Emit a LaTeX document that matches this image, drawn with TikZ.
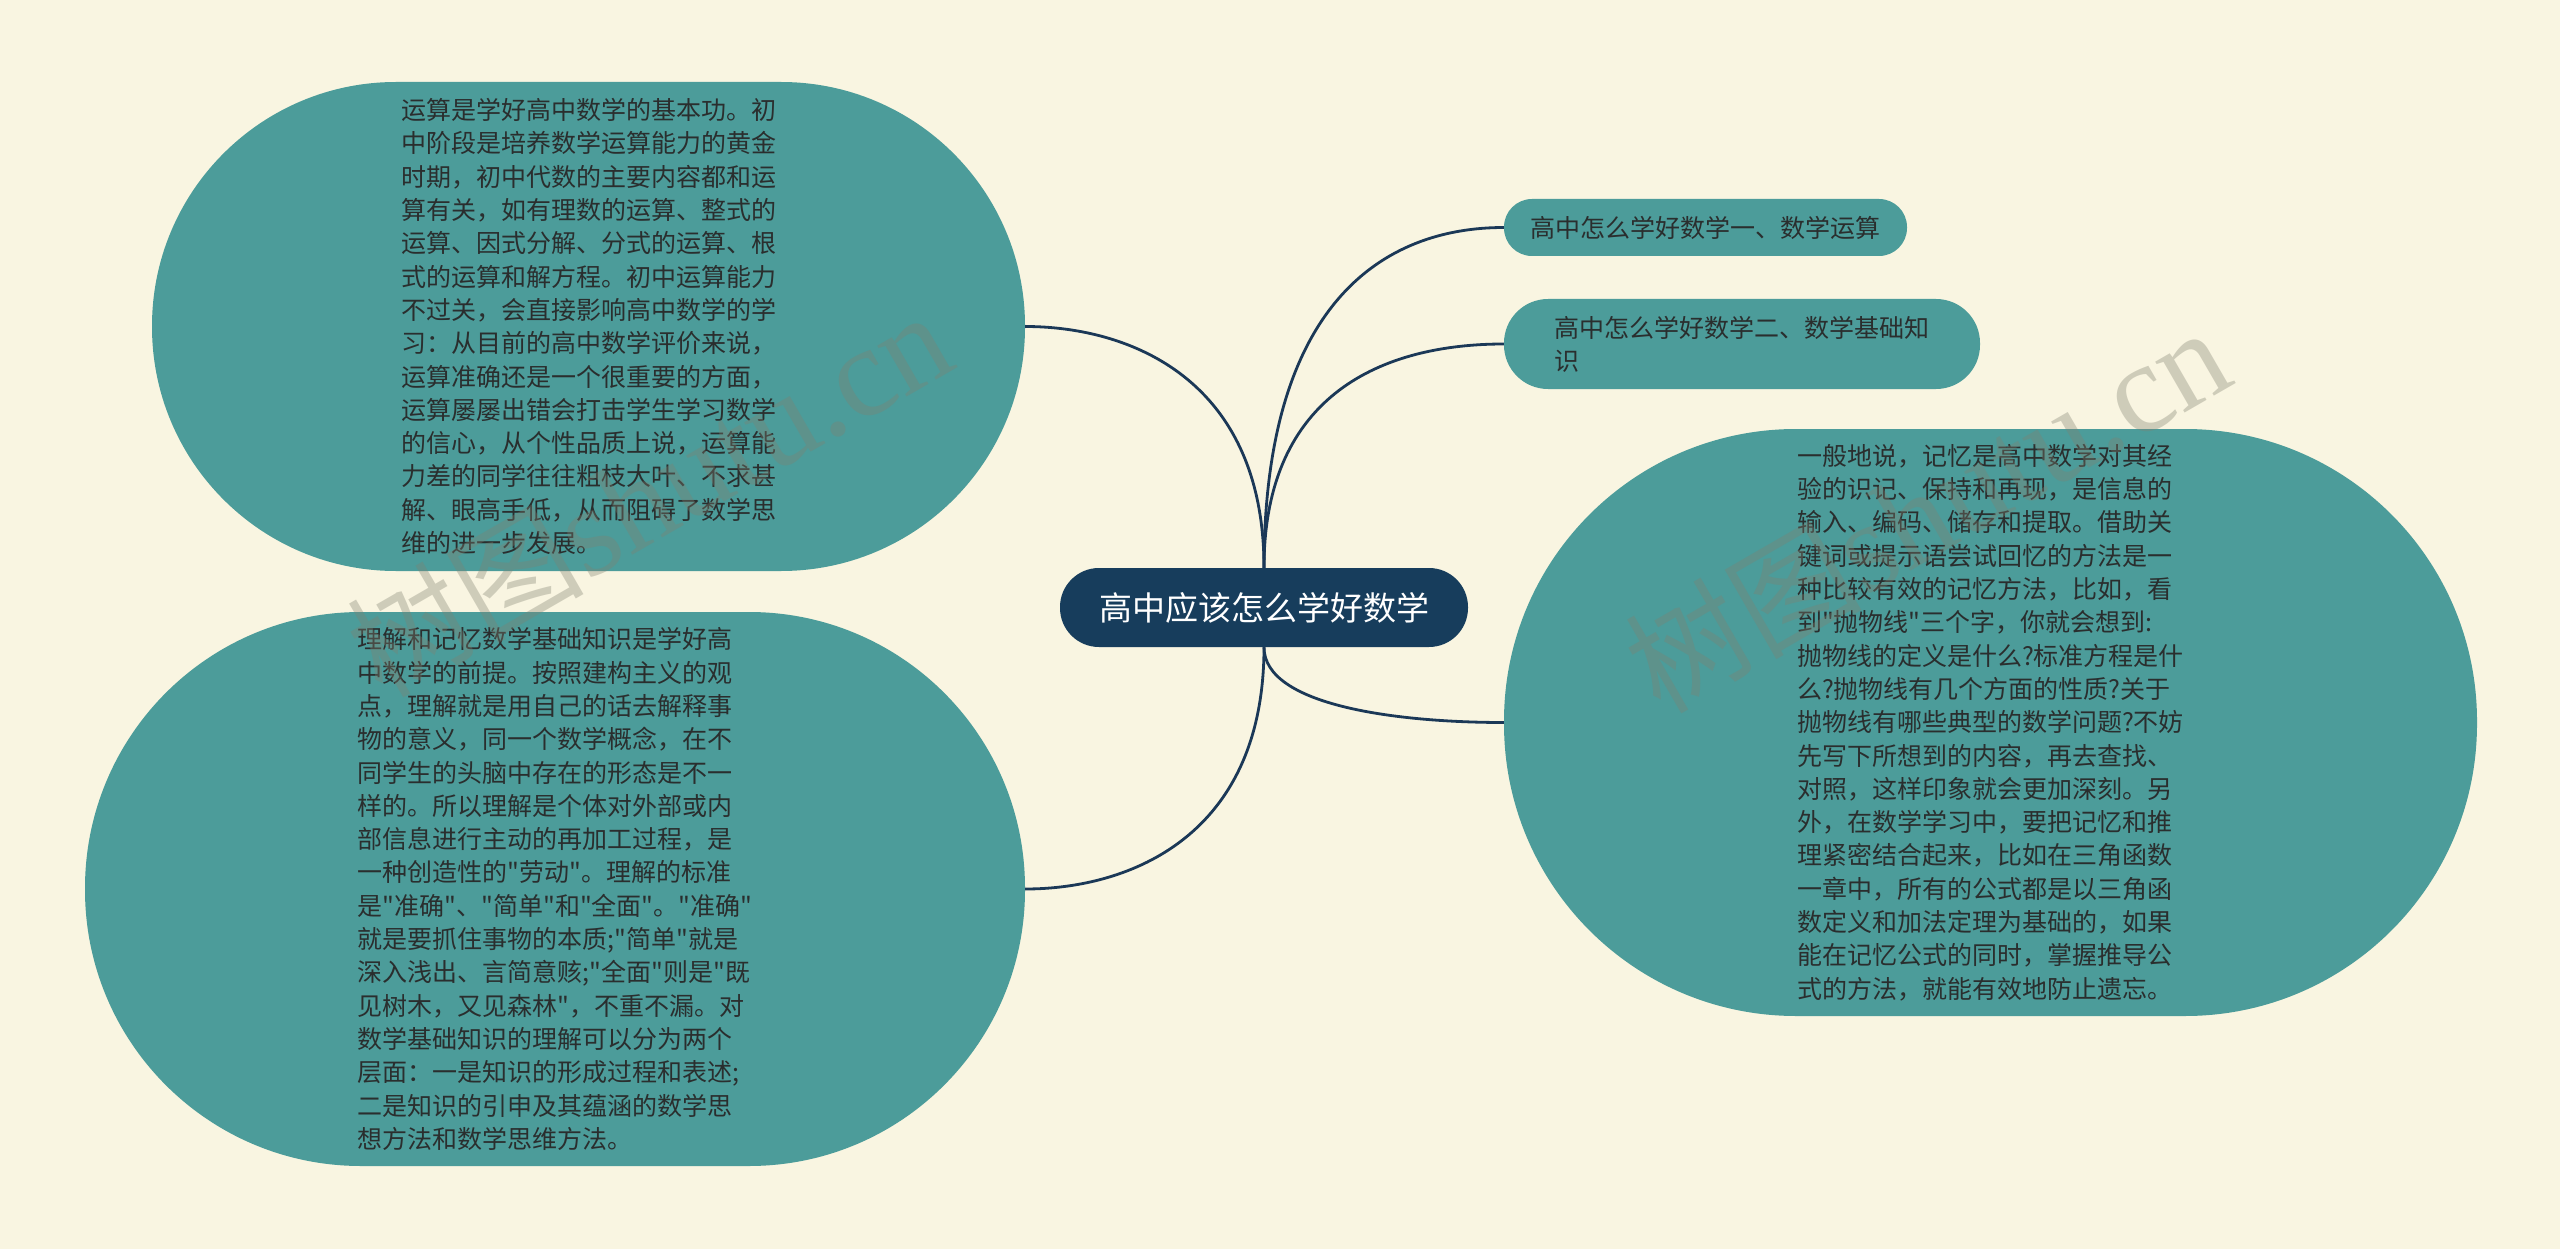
\documentclass[tikz,border=0pt]{standalone}
\usepackage{fontspec}
\setmainfont{Noto Sans CJK SC}
\newfontfamily\cjk{Noto Sans CJK SC}
\newfontfamily\wmserif{Liberation Serif}
\usetikzlibrary{calc}
\definecolor{bgcol}{HTML}{F9F5E1}
\definecolor{blobteal}{HTML}{4C9C9A}
\definecolor{centernavy}{HTML}{173D5C}
\definecolor{linecol}{HTML}{1B3857}
\definecolor{txtcol}{HTML}{2A2E2E}
\definecolor{wmcol}{HTML}{808070}
\begin{document}
\begin{tikzpicture}[x=1pt,y=-1pt,
  blob/.style={fill=blobteal, inner sep=0pt, align=left, text=txtcol,
    font=\cjk\fontsize{25}{33.3}\selectfont},
  topic/.style={fill=blobteal, inner sep=0pt, align=left, text=txtcol,
    font=\cjk\fontsize{25}{33}\selectfont},
  conn/.style={draw=linecol, line width=2.8pt},
  watermark/.style={rotate=30, text=wmcol, opacity=0.35, inner sep=0pt}]
\fill[bgcol] (0,0) rectangle (2560,1249);
\useasboundingbox (0,0) rectangle (2560,1249);

% central topic
\node[fill=centernavy, text=white, inner sep=0pt, minimum width=408pt, minimum height=79pt,
  rounded corners=39pt, font=\cjk\fontsize{33}{36}\selectfont] (c) at (1264,607.5) {高中应该怎么学好数学};

% right topics
\node[topic, minimum width=403pt, minimum height=57pt, rounded corners=28pt] (r1) at (1705.5,227.5)
  {高中怎么学好数学一、数学运算};
\node[topic, minimum width=476pt, minimum height=90pt, rounded corners=44pt] (r2) at (1742,344)
  {高中怎么学好数学二、数学基础知\\识};

% big blobs
\node[blob, minimum width=873pt, minimum height=489pt, rounded corners=244pt] (tl) at (588.5,326.5)
  {运算是学好高中数学的基本功。初\\
   中阶段是培养数学运算能力的黄金\\
   时期，初中代数的主要内容都和运\\
   算有关，如有理数的运算、整式的\\
   运算、因式分解、分式的运算、根\\
   式的运算和解方程。初中运算能力\\
   不过关，会直接影响高中数学的学\\
   习：从目前的高中数学评价来说，\\
   运算准确还是一个很重要的方面，\\
   运算屡屡出错会打击学生学习数学\\
   的信心，从个性品质上说，运算能\\
   力差的同学往往粗枝大叶、不求甚\\
   解、眼高手低，从而阻碍了数学思\\
   维的进一步发展。};

\node[blob, minimum width=940pt, minimum height=554pt, rounded corners=276pt] (bl) at (555,889)
  {理解和记忆数学基础知识是学好高\\
   中数学的前提。按照建构主义的观\\
   点，理解就是用自己的话去解释事\\
   物的意义，同一个数学概念，在不\\
   同学生的头脑中存在的形态是不一\\
   样的。所以理解是个体对外部或内\\
   部信息进行主动的再加工过程，是\\
   一种创造性的"劳动"。理解的标准\\
   是"准确"、"简单"和"全面"。"准确"\\
   就是要抓住事物的本质;"简单"就是\\
   深入浅出、言简意赅;"全面"则是"既\\
   见树木，又见森林"，不重不漏。对\\
   数学基础知识的理解可以分为两个\\
   层面：一是知识的形成过程和表述;\\
   二是知识的引申及其蕴涵的数学思\\
   想方法和数学思维方法。};

\node[blob, minimum width=973pt, minimum height=587pt, rounded corners=292pt] (rb) at (1990.5,722.5)
  {一般地说，记忆是高中数学对其经\\
   验的识记、保持和再现，是信息的\\
   输入、编码、储存和提取。借助关\\
   键词或提示语尝试回忆的方法是一\\
   种比较有效的记忆方法，比如，看\\
   到"抛物线"三个字，你就会想到:\\
   抛物线的定义是什么?标准方程是什\\
   么?抛物线有几个方面的性质?关于\\
   抛物线有哪些典型的数学问题?不妨\\
   先写下所想到的内容，再去查找、\\
   对照，这样印象就会更加深刻。另\\
   外，在数学学习中，要把记忆和推\\
   理紧密结合起来，比如在三角函数\\
   一章中，所有的公式都是以三角函\\
   数定义和加法定理为基础的，如果\\
   能在记忆公式的同时，掌握推导公\\
   式的方法，就能有效地防止遗忘。};

% connectors
\draw[conn] (c.north) .. controls ($(c.north)!0.78!(c.north|-tl.east)$) and ($(tl.east)!0.44!(c.north|-tl.east)$) .. (tl.east);
\draw[conn] (c.north) .. controls ($(c.north)!0.78!(c.north|-r1.west)$) and ($(r1.west)!0.5!(c.north|-r1.west)$) .. (r1.west);
\draw[conn] (c.north) .. controls ($(c.north)!0.78!(c.north|-r2.west)$) and ($(r2.west)!0.5!(c.north|-r2.west)$) .. (r2.west);
\draw[conn] (c.south) .. controls ($(c.south)!0.78!(c.south|-bl.east)$) and ($(bl.east)!0.44!(c.south|-bl.east)$) .. (bl.east);
\draw[conn] (c.south) .. controls ($(c.south)!0.78!(c.south|-rb.west)$) and ($(rb.west)!0.44!(c.south|-rb.west)$) .. (rb.west);

% watermarks
\node[watermark] (w1) at (649,494) {{\cjk\fontsize{118}{120}\selectfont 树图}{\wmserif\fontsize{128}{128}\selectfont shutu.cn}};
\node[watermark] (w2) at (1927,510) {{\cjk\fontsize{118}{120}\selectfont 树图}{\wmserif\fontsize{128}{128}\selectfont shutu.cn}};
\end{tikzpicture}
\end{document}
